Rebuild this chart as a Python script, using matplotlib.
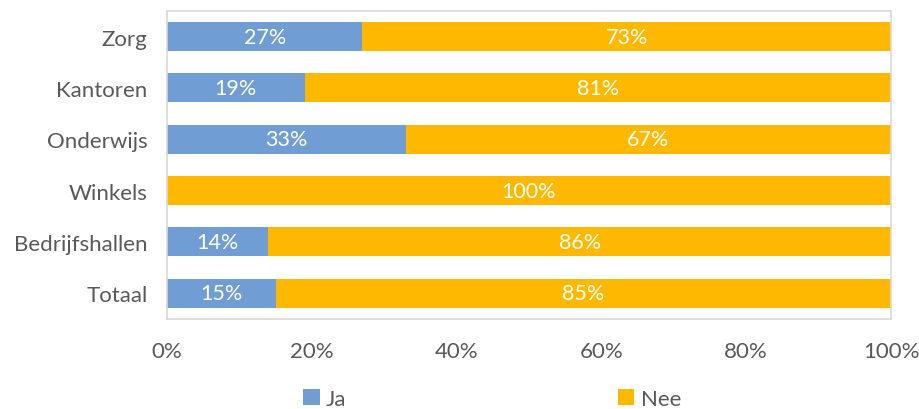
import matplotlib.pyplot as plt
from matplotlib.ticker import PercentFormatter

# Aandeel ja/nee per sector
sectoren = ['Zorg', 'Kantoren', 'Onderwijs', 'Winkels', 'Bedrijfshallen', 'Totaal']
ja = [27, 19, 33, 0, 14, 15]
nee = [73, 81, 67, 100, 86, 85]

plt.rcParams['font.family'] = ['Lato', 'DejaVu Sans']

fig = plt.figure(figsize=(9.2, 4.1), dpi=100)
ax = fig.add_axes([0.1815, 0.22, 0.787, 0.751])

y = list(range(len(sectoren)))[::-1]
blauw = '#6F9DD4'
oranje = '#FFB800'

b1 = ax.barh(y, ja, height=0.57, color=blauw, label='Ja')
b2 = ax.barh(y, nee, left=ja, height=0.57, color=oranje, label='Nee')

for bars, vals in ((b1, ja), (b2, nee)):
    for bar, v in zip(bars, vals):
        if v > 0:
            ax.text(bar.get_x() + bar.get_width() / 2, bar.get_y() + bar.get_height() / 2,
                    f'{v}%', ha='center', va='center', color='white', fontsize=15.5)

ax.set_xlim(0, 100)
ax.set_ylim(-0.5, 5.5)
ax.set_yticks(y)
ax.set_yticklabels(sectoren)
ax.set_xticks([0, 20, 40, 60, 80, 100])
ax.xaxis.set_major_formatter(PercentFormatter(decimals=0))
ax.tick_params(axis='both', length=0, labelsize=16, labelcolor='#595959')
ax.tick_params(axis='x', pad=16)
ax.tick_params(axis='y', pad=14)
for s in ax.spines.values():
    s.set_color('#D9D9D9')
    s.set_linewidth(1.2)

fig.legend(handles=[b1, b2], loc='center', bbox_to_anchor=(0.535, 0.025), ncol=2,
           frameon=False, fontsize=16, handlelength=0.75, handleheight=0.75,
           handletextpad=0.3, columnspacing=12.2, labelcolor='#595959')

fig.savefig('out.png', dpi=100)
